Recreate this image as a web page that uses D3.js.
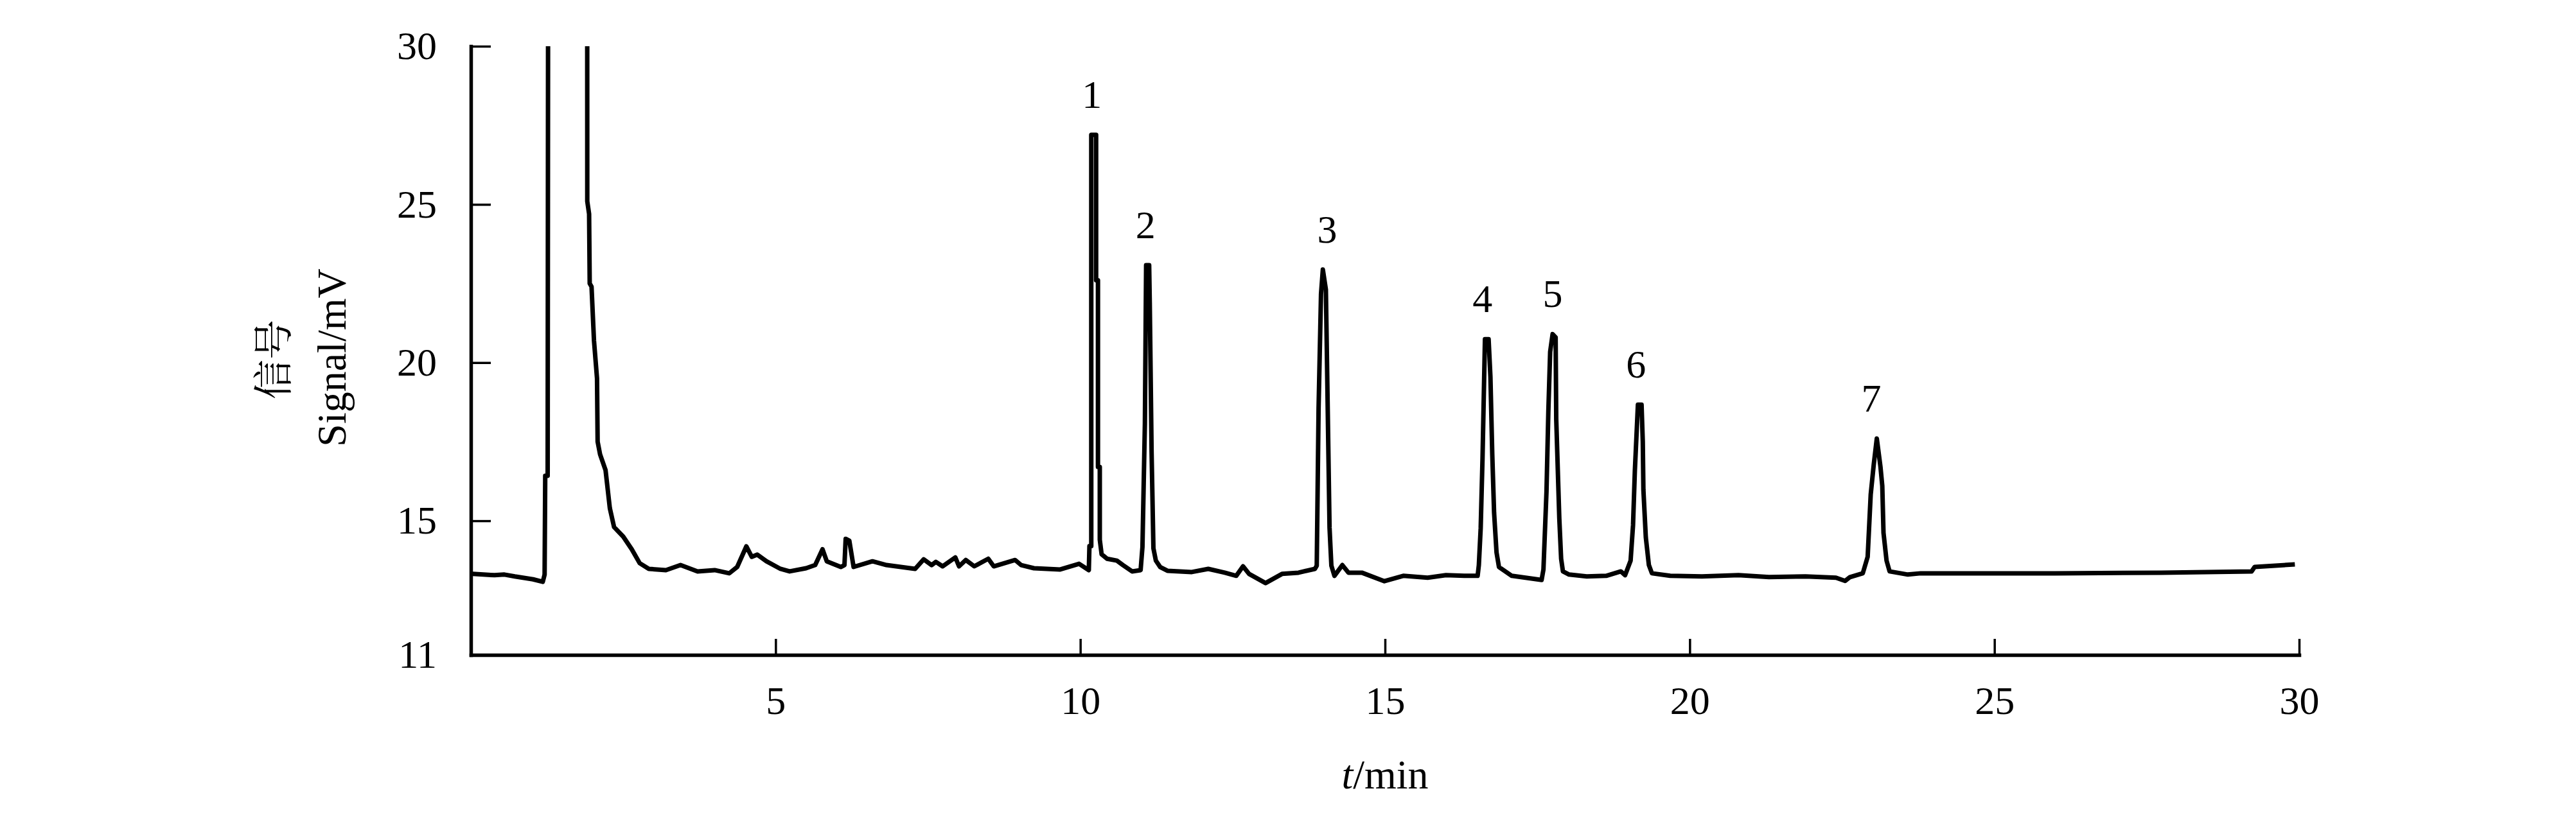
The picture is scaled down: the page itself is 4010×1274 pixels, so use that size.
<!DOCTYPE html>
<html><head><meta charset="utf-8">
<script src="https://cdn.jsdelivr.net/npm/d3@7"></script>
<style>html,body{margin:0;padding:0;background:#fff;} svg{display:block;background:#fff}</style>
</head><body><svg id="chart" width="4010" height="1274"></svg>
<script>
// Retention time (min)
const timeMin = [
 0.03,0.20,0.39,0.55,0.72,1.02,1.18,1.21,1.22,1.26,1.29,1.90,1.91,1.94,1.95,1.98,2.02,2.07,2.08,2.12,
 2.21,2.28,2.35,2.50,2.64,2.77,2.92,3.20,3.44,3.72,4.00,4.24,4.37,4.52,4.61,4.70,4.85,5.08,5.23,5.50,
 5.65,5.77,5.84,6.07,6.13,6.15,6.21,6.28,6.59,6.82,7.29,7.43,7.56,7.63,7.74,7.95,8.01,8.12,8.26,8.49,
 8.58,8.93,9.03,9.24,9.67,9.98,10.14,10.15,10.18,10.18,10.26,10.26,10.29,10.29,10.32,10.32,10.35,10.44,10.60,10.70,
 10.85,10.99,11.02,11.06,11.08,11.13,11.14,11.17,11.20,11.24,11.31,11.43,11.83,12.10,12.37,12.56,12.67,12.77,13.04,13.31,
 13.58,13.85,13.88,13.91,13.95,13.98,14.03,14.06,14.09,14.12,14.17,14.30,14.40,14.62,14.99,15.30,15.70,16.00,16.30,16.52,
 16.54,16.57,16.60,16.64,16.70,16.73,16.76,16.79,16.83,16.87,17.08,17.57,17.60,17.65,17.68,17.71,17.75,17.80,17.81,17.86,
 17.89,17.92,18.02,18.31,18.63,18.87,18.94,19.03,19.07,19.10,19.15,19.21,19.23,19.24,19.28,19.33,19.38,19.68,20.20,20.80,
 21.30,21.90,22.40,22.55,22.63,22.84,22.92,22.97,23.02,23.07,23.13,23.16,23.18,23.23,23.28,23.58,23.79,25.99,27.73,29.22,
 29.27,29.93
];
// Detector signal (mV); the solvent peak runs off scale
const signalMV = [
 13.32,13.30,13.28,13.30,13.24,13.15,13.07,13.30,16.42,16.42,80,80,25.1,24.7,22.5,22.4,20.7,19.5,17.5,17.1,
 16.6,15.4,14.8,14.5,14.1,13.66,13.48,13.44,13.6,13.4,13.44,13.34,13.54,14.19,13.86,13.93,13.72,13.48,13.4,13.5,
 13.6,14.1,13.72,13.54,13.6,14.43,14.37,13.54,13.72,13.6,13.48,13.78,13.6,13.7,13.56,13.84,13.56,13.76,13.56,13.8,
 13.56,13.76,13.6,13.5,13.46,13.64,13.44,14.2,14.2,27.2,27.2,22.6,22.6,16.7,16.7,14.4,13.94,13.8,13.74,13.6,
 13.4,13.44,14.17,18.07,23.08,23.08,21.9,17.17,14.13,13.74,13.54,13.42,13.38,13.48,13.36,13.26,13.56,13.32,13.03,13.32,
 13.36,13.48,13.58,18.55,22.17,22.94,22.31,18.55,14.78,13.58,13.26,13.6,13.36,13.36,13.09,13.26,13.2,13.28,13.26,13.26,
 13.6,14.76,16.95,20.74,20.74,19.55,17.11,15.26,14.0,13.54,13.26,13.13,13.46,15.93,18.43,20.34,20.9,20.8,18.2,15.08,
 13.8,13.4,13.3,13.24,13.26,13.4,13.28,13.74,14.86,16.58,18.67,18.67,17.5,15.98,14.47,13.6,13.34,13.26,13.24,13.28,
 13.22,13.24,13.2,13.1,13.22,13.34,13.86,15.83,16.78,17.6,16.71,16.1,14.62,13.74,13.4,13.3,13.34,13.34,13.36,13.4,
 13.54,13.62
];
const xTickValues = [5, 10, 15, 20, 25, 30];
const yTickValues = [10.76, 15, 20, 25, 30];
const peakLabels = ["1", "2", "3", "4", "5", "6", "7"];
const peakLabelTimes = [10.19, 11.07, 14.05, 16.60, 17.75, 19.12, 22.98];
const peakApex = [27.2, 23.08, 22.94, 20.74, 20.9, 18.67, 17.6];

const svg = d3.select("#chart");
const serif = '"Liberation Serif","Times New Roman",serif';
const x = d3.scaleLinear().domain([0, 30]).range([733, 3579]);
const y = d3.scaleLinear().domain([10.76, 30]).range([1020, 72]);

svg.append("defs").append("clipPath").attr("id", "plotclip")
  .append("rect").attr("x", 733).attr("y", 72).attr("width", 3579 - 733).attr("height", 1020 - 72);

const data = timeMin.map((t, i) => [t, signalMV[i]]);
svg.append("path").datum(data)
  .attr("clip-path", "url(#plotclip)")
  .attr("fill", "none").attr("stroke", "#000").attr("stroke-width", 7)
  .attr("stroke-linejoin", "round")
  .attr("d", d3.line().x(d => x(d[0])).y(d => y(d[1])));

const xAxis = svg.append("g").attr("transform", "translate(0,1020)")
  .call(d3.axisBottom(x).tickValues(xTickValues).tickSizeInner(-25).tickSizeOuter(0).tickPadding(48).tickFormat(d3.format("d")));
const yAxis = svg.append("g").attr("transform", "translate(733,0)")
  .call(d3.axisLeft(y).tickValues(yTickValues).tickSizeInner(-31).tickSizeOuter(0).tickPadding(53).tickFormat(d3.format(".0f")));

[xAxis, yAxis].forEach(g => {
  g.select(".domain").attr("stroke", "#000").attr("stroke-width", 5.5).attr("stroke-linecap", "square");
  g.selectAll(".tick line").attr("stroke", "#000").attr("stroke-width", 3.5);
  g.selectAll(".tick text").attr("font-family", serif).attr("font-size", 62).attr("fill", "#000");
});

svg.append("g").selectAll("text").data(peakLabels).join("text")
  .attr("x", (d, i) => x(peakLabelTimes[i]))
  .attr("y", (d, i) => y(peakApex[i]) - 42)
  .attr("text-anchor", "middle")
  .attr("font-family", serif).attr("font-size", 62).attr("fill", "#000")
  .text(d => d);

const xt = svg.append("text").attr("x", (733 + 3579) / 2).attr("y", 1228)
  .attr("text-anchor", "middle").attr("font-family", serif).attr("font-size", 64).attr("fill", "#000");
xt.append("tspan").attr("font-style", "italic").text("t");
xt.append("tspan").text("/min");

svg.append("text").attr("transform", "translate(448,560) rotate(-90)")
  .attr("text-anchor", "middle")
  .attr("font-family", '"Noto Serif CJK SC","Noto Sans CJK SC",serif').attr("font-size", 62).attr("fill", "#000")
  .text("信号");
svg.append("text").attr("transform", "translate(538,557) rotate(-90)")
  .attr("text-anchor", "middle")
  .attr("font-family", serif).attr("font-size", 64).attr("fill", "#000")
  .text("Signal/mV");
</script>
</body></html>
